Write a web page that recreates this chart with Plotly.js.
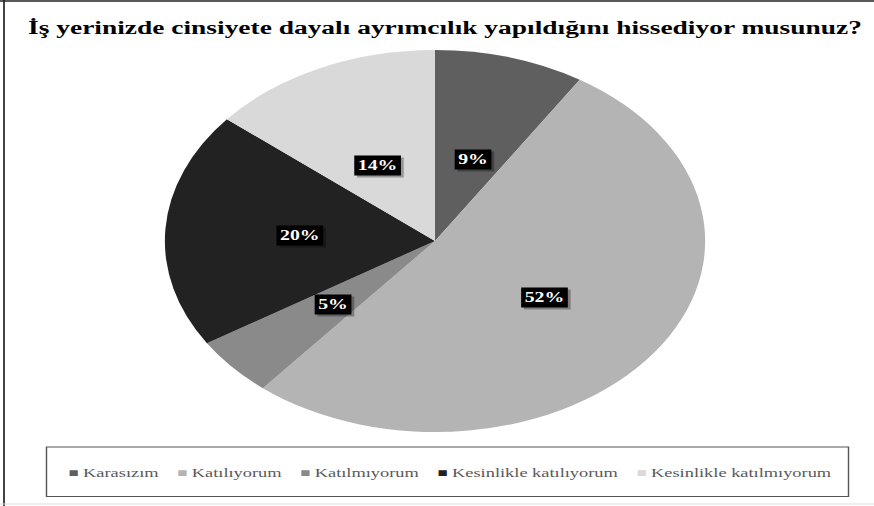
<!DOCTYPE html>
<html><head><meta charset="utf-8">
<script src="https://cdn.plot.ly/plotly-3.0.1.min.js"></script>
<style>
html,body{margin:0;padding:0;overflow:hidden;background:#fff;width:874px;height:506px}
#wrap{width:874px;height:506px;overflow:hidden;position:relative}
#chart{width:618px;height:506px;transform-origin:0 0;position:absolute;left:0;top:0}
</style>
</head><body><div id="wrap"><div id="chart"></div></div>
<script>
const chartTitle = "İş yerinizde cinsiyete dayalı ayrımcılık yapıldığını hissediyor musunuz?";
const categories = ["Karasızım", "Katılıyorum", "Katılmıyorum", "Kesinlikle katılıyorum", "Kesinlikle katılmıyorum"];
const values = [9, 52, 5, 20, 14];
const colors = ["#5f5f5f", "#b4b4b4", "#8a8a8a", "#222222", "#d9d9d9"];

const SERIF = "Liberation Serif, Times New Roman, Times, serif";

// The reference picture is stretched horizontally; draw at narrower width and stretch.
const FULL_W = 874, H = 506;
const W = 618;
const S = FULL_W / W;
document.getElementById('chart').style.transform = 'scaleX(' + S + ')';

const cx = 435 / S, cy = 241, r = 191;
const dom = {
  x: [(cx - r) / W, (cx + r) / W],
  y: [1 - (cy + r) / H, 1 - (cy - r) / H]
};

const total = values.reduce((a, b) => a + b, 0);
const annotations = [];
let cum = 0;
values.forEach((v, i) => {
  const mid = (cum + v / 2) / total * 2 * Math.PI;
  cum += v;
  const x = (cx + 0.5 * r * Math.sin(mid)) / W;
  const y = 1 - (cy - 0.5 * r * Math.cos(mid)) / H;
  const txt = v + '%';
  const blank = '\u00A0'.repeat(String(v).length * 2 + 4);
  annotations.push({
    x: x, y: y, xref: 'paper', yref: 'paper', showarrow: false, text: blank,
    font: {family: SERIF, size: 14, color: 'rgba(0,0,0,0)', weight: 'bold'},
    bgcolor: 'rgba(0,0,0,0.3)', borderpad: 2, xshift: 2, yshift: -2
  });
  annotations.push({
    x: x, y: y, xref: 'paper', yref: 'paper', showarrow: false, text: txt,
    font: {family: SERIF, size: 14, color: '#ffffff', weight: 'bold'},
    bgcolor: '#000000', borderpad: 2
  });
});

const legendText = categories.map((c, i) =>
  '<span style="color:' + colors[i] + ';font-size:12px">■</span>\u00A0' + c
).join('\u00A0\u00A0\u00A0\u00A0');
annotations.push({
  x: 450 / FULL_W, y: 1 - 472 / H, xref: 'paper', yref: 'paper', showarrow: false,
  xanchor: 'center', yanchor: 'middle', text: legendText,
  font: {family: SERIF, size: 13, color: '#595959'}
});

const data = [{
  type: 'pie', labels: categories, values: values, sort: false, direction: 'clockwise',
  rotation: 0, marker: {colors: colors, line: {width: 0}}, textinfo: 'none',
  hoverinfo: 'label+percent', domain: dom, showlegend: false
}];

const layout = {
  width: W, height: H, margin: {l: 0, r: 0, t: 0, b: 0},
  paper_bgcolor: '#ffffff', plot_bgcolor: '#ffffff', showlegend: false,
  font: {family: SERIF},
  title: {
    text: chartTitle, x: 445 / FULL_W, xref: 'paper', xanchor: 'center',
    y: 1 - 27 / H, yref: 'container', yanchor: 'middle',
    font: {family: SERIF, size: 19.4, color: '#000000', weight: 'bold'}
  },
  annotations: annotations,
  shapes: [
    {type: 'rect', xref: 'paper', yref: 'paper', x0: 46.5 / FULL_W, x1: 848.5 / FULL_W,
     y0: 1 - 496.5 / H, y1: 1 - 447 / H, line: {color: '#555555', width: 1}},
    {type: 'line', xref: 'paper', yref: 'paper', x0: 4 / FULL_W, x1: 4 / FULL_W, y0: 0, y1: 1,
     line: {color: '#222222', width: 1.2}},
    {type: 'line', xref: 'paper', yref: 'paper', x0: 0, x1: 1, y0: 1 - 1 / H, y1: 1 - 1 / H,
     line: {color: '#222222', width: 1.5}},
    {type: 'line', xref: 'paper', yref: 'paper', x0: 0, x1: 1, y0: 1 - 504 / H, y1: 1 - 504 / H,
     line: {color: '#dddddd', width: 1}}
  ]
};

Plotly.newPlot('chart', data, layout, {staticPlot: true, displayModeBar: false});
</script>
</body></html>
